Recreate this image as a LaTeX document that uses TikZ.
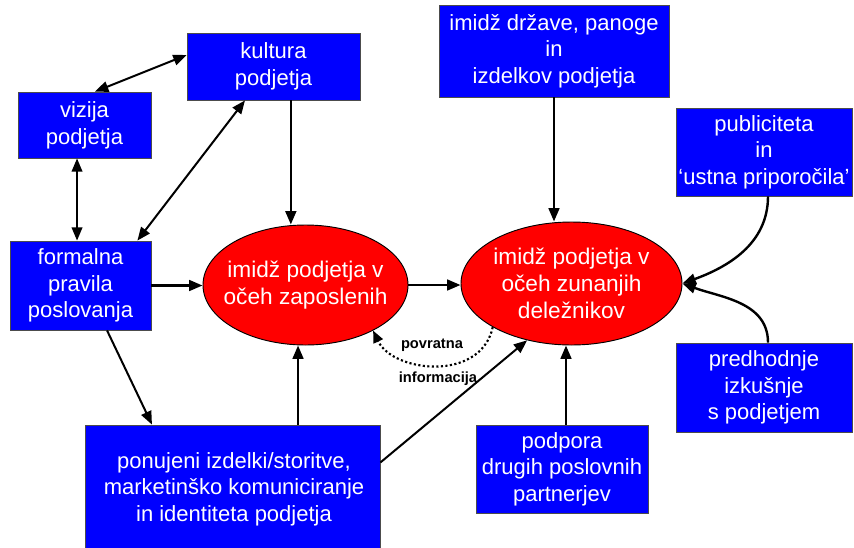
\documentclass[tikz,border=0pt]{standalone}
\usepackage{fontspec}
\setmainfont{Liberation Sans}
\usetikzlibrary{arrows.meta,shapes.geometric}
\definecolor{boxblue}{RGB}{0,0,255}
\definecolor{ovalred}{RGB}{255,0,0}
\begin{document}
\begin{tikzpicture}[x=0.75pt,y=-0.75pt,
  box/.style={draw=black!70,line width=0.6pt,fill=boxblue,text=white,align=center,
    inner sep=0pt,font=\fontsize{16.5}{20}\selectfont},
  oval/.style={ellipse,draw=black,line width=0.7pt,fill=ovalred,inner sep=0pt},
  ovaltext/.style={text=white,align=center,inner sep=0pt,font=\fontsize{17}{20}\selectfont},
  arr/.style={line width=1.8pt,-{Triangle[length=10pt,width=8pt]}},
  darr/.style={line width=1.5pt,{Triangle[length=10pt,width=8pt]}-{Triangle[length=10pt,width=8pt]}},
  sarr/.style={line width=1.5pt,-{Triangle[length=10pt,width=8pt]}},
  fb/.style={line width=1.6pt,dash pattern=on 1.6pt off 1.8pt,-{Triangle[length=9pt,width=7.5pt]}},
  lbl/.style={font=\bfseries\fontsize{11}{12}\selectfont,inner sep=0pt}]
\useasboundingbox (0,0) rectangle (854,547);

% boxes
\node[box,minimum width=129.75pt,minimum height=50.25pt] (kultura) at (273.5,66.5) {kultura\\podjetja};
\node[box,minimum width=99.75pt,minimum height=49.5pt] (vizija) at (84.5,125) {vizija\\podjetja};
\node[box,minimum width=105.75pt,minimum height=66.75pt] (formalna) at (80.5,285.5) {formalna\\pravila\\poslovanja};
\node[box,minimum width=172.5pt,minimum height=69pt] (drzave) at (554,51) {imidž države, panoge\\in\\izdelkov podjetja};
\node[box,minimum width=132pt,minimum height=66pt] (publ) at (764,152) {publiciteta\\in\\‘ustna priporočila’};
\node[box,minimum width=132pt,minimum height=66.75pt] (predh) at (764,387.5) {predhodnje\\izkušnje\\s podjetjem};
\node[box,minimum width=221.25pt,minimum height=93pt] (ponujeni) at (232.5,487) {};
\node[box,draw=none,fill=none] (ponujenitext) at (234,489) {ponujeni izdelki/storitve,\\marketinško komuniciranje\\in identiteta podjetja};
\node[box,minimum width=129pt,minimum height=66pt] (podpora) at (562,469) {podpora\\drugih poslovnih\\partnerjev};

% image ovals, outline sized independently of the text
\node[oval,minimum width=153.75pt,minimum height=90pt] (e1) at (305.5,285) {};
\node[ovaltext] (e1text) at (e1.center) {imidž podjetja v\\očeh zaposlenih};
\node[oval,minimum width=165.75pt,minimum height=92.25pt] (e2) at (571.5,283.5) {};
\node[ovaltext] (e2text) at (e2.center) {imidž podjetja v\\očeh zunanjih\\deležnikov};

% connectors
\draw[darr] ([yshift=8.6pt]kultura.west) -- ([xshift=7.9pt]vizija.north);
\draw[darr] ([xshift=-5.6pt]vizija.south) -- ([xshift=-5.6pt]vizija.south |- formalna.north);
\draw[darr] ([xshift=-21.4pt]kultura.south) -- ([xshift=-10.5pt]formalna.north east);
\draw[arr] ([xshift=-11pt]kultura.south -| e1.north) -- ([xshift=-11pt]e1.north);
\draw[arr] (formalna.east) -- (formalna.east -| e1.west);
\draw[arr] (e1.east) -- (e1.east -| e2.west);
\draw[arr] (drzave.south) -- (drzave.south |- e2.north);
\draw[arr] ([xshift=3pt]publ.south) to[out=-90,in=20] (e2.east);
\draw[arr] ([xshift=3pt]predh.north) to[out=90,in=-20] (e2.east);
\draw[sarr] ([xshift=19.9pt]formalna.south) -- ([xshift=-60.4pt]ponujeni.north);
\draw[arr] ([xshift=-5.6pt]ponujeni.north -| e1.south) -- ([xshift=-5.6pt]e1.south);
\draw[sarr] ([yshift=18.4pt]ponujeni.east) -- (e2.-128);
\draw[arr] ([xshift=3pt]podpora.north) -- ([xshift=3pt]podpora.north |- e2.south);

% feedback loop
\draw[fb] (e2.-151) .. controls +(-12,55) and +(20,42) .. (e1.-34);
\node[lbl] (povratna) at (432,345) {povratna};
\node[lbl] (informacija) at (438,379) {informacija};
\end{tikzpicture}
\end{document}
